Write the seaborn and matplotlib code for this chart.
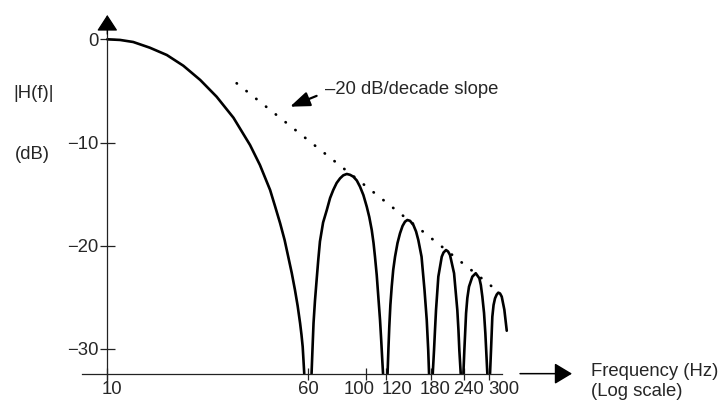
import matplotlib
matplotlib.use("Agg")
import matplotlib.pyplot as plt
from matplotlib.ticker import NullLocator
from matplotlib.transforms import ScaledTranslation
import pandas as pd
import seaborn as sns

# Betragsgang |H(f)| in dB (eine Liste pro Keule)
main_freq = [10.0, 11.2, 12.6, 14.6, 17.0, 19.7, 22.9, 26.5, 30.8, 35.7, 39.0, 42.7, 44.6, 46.7,
             48.6, 50.2, 51.8, 53.3, 54.6, 55.8, 56.5, 57.1, 57.5, 57.9]
main_db = [0.0, -0.06, -0.26, -0.81, -1.52, -2.56, -3.94, -5.56, -7.60, -10.24, -12.18, -14.60, -16.15, -17.83,
           -19.45, -21.07, -22.65, -24.29, -25.84, -27.52, -28.65, -29.79, -31.08, -32.4]

lobe1_freq = [61.8, 62.3, 62.9, 63.7, 64.7, 65.6, 66.6, 68.5, 70.8, 72.9, 75.0, 77.3, 79.7, 82.0, 84.6, 87.1,
              89.7, 92.5, 95.2, 98.1, 101.1, 103.4, 105.7, 107.4, 108.8, 110.5, 112.1, 113.8, 115.0, 116.1, 116.9]
lobe1_db = [-32.4, -30.11, -27.49, -25.36, -23.23, -21.39, -19.59, -17.75, -16.54, -15.38, -14.60, -13.92, -13.47,
            -13.18, -13.05, -13.13, -13.31, -13.68, -14.28, -15.09, -16.22, -17.22, -18.48, -19.74, -21.07, -22.84,
            -24.97, -27.20, -29.14, -31.07, -32.4]

lobe2_freq = [121.7, 122.6, 123.6, 124.8, 126.3, 128.0, 130.1, 133.0, 136.0, 139.1, 142.2, 145.2, 148.7, 153.2,
              156.9, 160.1, 164.8, 169.2, 172.6, 174.9, 176.2]
lobe2_db = [-32.4, -30.11, -27.85, -25.75, -23.97, -22.35, -21.07, -19.74, -18.80, -18.09, -17.67, -17.51, -17.59,
            -17.99, -18.62, -19.45, -21.07, -24.29, -27.20, -30.11, -32.4]

lobe3_freq = [182.1, 184.2, 185.8, 187.5, 191.4, 197.3, 200.5, 205.0, 208.7, 212.4, 220.2, 226.7, 229.0, 230.8, 233.7]
lobe3_db = [-32.4, -30.11, -28.17, -26.23, -23.0, -21.07, -20.66, -20.42, -20.56, -20.90, -22.67, -26.23, -28.17,
            -30.11, -32.4]

lobe4_freq = [239.3, 241.4, 245.1, 247.9, 251.6, 259.2, 267.2, 275.9, 279.6, 283.4, 287.7, 291.1, 296.3]
lobe4_db = [-32.4, -30.1, -26.55, -25.07, -23.97, -23.0, -22.67, -23.16, -23.81, -24.94, -26.52, -28.49, -32.4]

lobe5_freq = [303.5, 306.2, 309.8, 313.2, 317.3, 322.2, 326.8, 331.8, 336.9, 344.8, 352.3]
lobe5_db = [-32.4, -30.1, -26.88, -25.75, -25.1, -24.73, -24.55, -24.63, -24.94, -26.2, -28.24]

# -20 dB/Dekade Hüllkurve
slope_freq = [31.7, 317.5]
slope_db = [-4.26, -24.2]

xtick_vals = [10, 60, 100, 120, 180, 240, 300]
xtick_labels = ["10", "60", "100", "120", "180", "240", "300"]
xtick_shift_px = [5, 0, -6, 11, 4, 5, 15]
ytick_vals = [0, -10, -20, -30]
ytick_labels = ["0", "\u221210", "\u221220", "\u221230"]

sns.set_style("ticks")
plt.rcParams['font.family'] = ['Liberation Sans', 'DejaVu Sans']
FS = 13.3

lobes = [(main_freq, main_db), (lobe1_freq, lobe1_db), (lobe2_freq, lobe2_db),
         (lobe3_freq, lobe3_db), (lobe4_freq, lobe4_db), (lobe5_freq, lobe5_db)]
df = pd.concat([pd.DataFrame({"freq": f, "db": d, "lobe": i}) for i, (f, d) in enumerate(lobes)],
               ignore_index=True)
df_slope = pd.DataFrame({"freq": slope_freq, "db": slope_db})

fig = plt.figure(figsize=(7.23, 4.01), dpi=100)
ax = fig.add_axes([0, 0, 1, 1])
ax.set_xscale("log")

sns.lineplot(data=df, x="freq", y="db", units="lobe", estimator=None, sort=False,
             color="black", lw=1.9, legend=False, ax=ax)
sns.lineplot(data=df_slope, x="freq", y="db", color="black", lw=2.0,
             linestyle=(0, (0.1, 4.4)), dash_capstyle="round", legend=False, ax=ax)

ax.set_xlim(3.841, 2423)
ax.set_ylim(-35.05, 3.81)
ax.set_xlabel("")
ax.set_ylabel("")

# Achsen als Linien im Datenraum
for s in ["top", "right"]:
    ax.spines[s].set_visible(False)
ax.spines["left"].set_position(("data", 10))
ax.spines["left"].set_bounds(-33.05, 1.0)
ax.spines["bottom"].set_position(("data", -32.4))
ax.spines["bottom"].set_bounds(7.98, 337.9)
for s in ["left", "bottom"]:
    ax.spines[s].set_color("#222222")
    ax.spines[s].set_linewidth(0.9)

ax.set_xticks(xtick_vals, labels=xtick_labels)
ax.xaxis.set_minor_locator(NullLocator())
ax.set_yticks(ytick_vals, labels=ytick_labels)
ax.tick_params(axis="x", direction="inout", length=9, width=0.9, pad=1, labelsize=FS, color="#222222")
ax.tick_params(axis="y", direction="inout", length=10.8, width=0.9, pad=1, labelsize=FS, color="#222222")
for lab, dx in zip(ax.get_xticklabels(), xtick_shift_px):
    lab.set_transform(lab.get_transform() + ScaledTranslation(dx / 100, 0, fig.dpi_scale_trans))

# Pfeilspitzen
ax.annotate("", xy=(10, 2.36), xytext=(10, 0.5),
            arrowprops=dict(arrowstyle="-|>,head_length=1.0,head_width=0.65", mutation_scale=10,
                            color="black", lw=0.9, shrinkA=0, shrinkB=0))
ax.annotate("", xy=(630.6, -32.4), xytext=(396.6, -32.4),
            arrowprops=dict(arrowstyle="-|>,head_length=1.08,head_width=0.65", mutation_scale=10,
                            color="black", lw=1.1, shrinkA=0, shrinkB=0))

ax.annotate("\u201320 dB/decade slope", xy=(51.0, -6.53), xytext=(69.7, -4.82),
            ha="left", va="center", fontsize=FS,
            arrowprops=dict(arrowstyle="-|>,head_length=1.2,head_width=0.45", mutation_scale=10,
                            color="black", lw=1.6, shrinkA=4, shrinkB=0, relpos=(0, 0.3)))

ax.text(0.018, 0.768, "|H(f)|", transform=ax.transAxes, ha="left", va="center", fontsize=FS)
ax.text(0.0207, 0.6135, "(dB)", transform=ax.transAxes, ha="left", va="center", fontsize=FS)
ax.text(0.818, 0.0731, "Frequency (Hz)", transform=ax.transAxes, ha="left", va="center", fontsize=FS)
ax.text(0.818, 0.0232, "(Log scale)", transform=ax.transAxes, ha="left", va="center", fontsize=FS)

fig.savefig("out.png", dpi=100)
